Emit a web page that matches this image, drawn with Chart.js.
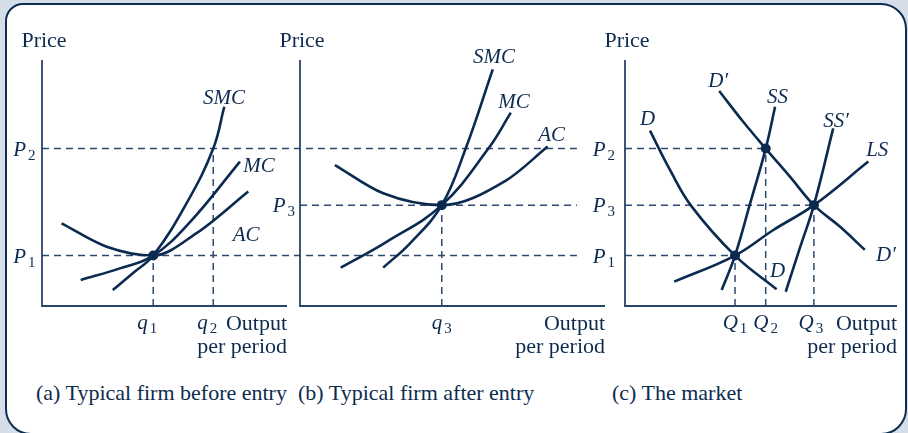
<!DOCTYPE html>
<html><head><meta charset="utf-8">
<script src="https://cdn.jsdelivr.net/npm/chart.js@4"></script>
<style>
html,body{margin:0;padding:0;}
body{width:908px;height:433px;background:#d5dde8;position:relative;overflow:hidden;font-family:"Liberation Serif","Times New Roman",serif;color:#0d2b4f;}
#frame{position:absolute;left:5px;top:3px;width:902px;height:432px;background:#fff;border:2.5px solid #0c2c52;border-radius:18px 26px 26px 26px;box-sizing:border-box;}
canvas{position:absolute;top:0;}
.cap{position:absolute;top:382px;font-size:22px;line-height:21px;white-space:nowrap;color:#0d2b4f;}
</style></head>
<body>
<div id="frame"></div>
<canvas id="ca" width="300" height="380" style="left:0px"></canvas>
<canvas id="cb" width="350" height="380" style="left:260px"></canvas>
<canvas id="cc" width="318" height="380" style="left:590px"></canvas>
<div class="cap" style="left:36px">(a) Typical firm before entry</div>
<div class="cap" style="left:298px">(b) Typical firm after entry</div>
<div class="cap" style="left:612px">(c) The market</div>
<script>
// ---- price levels (shared) ----
const P1 = 20.5, P2 = 64, P3 = 41;
// ---- firm outputs ----
const q1 = 45.4, q2 = 69.9, q3 = 58.1;
// ---- market outputs ----
const Q1 = 44.5, Q2 = 56.9, Q3 = 76.4;

// ---- panel (a): typical firm before entry ----
const smcA = [[28.9,6.5],[37.3,13.5],[q1,P1],[59.1,41.9],[q2,P2],[74.4,81.0]];
const mcA  = [[15.8,10.6],[31.8,15.3],[q1,P1],[60.4,34.1],[80.8,58.7]];
const acA  = [[8.0,33.6],[26.4,24.1],[q1,P1],[63.1,29.6],[84.2,46.5]];

// ---- panel (b): typical firm after entry ----
const smcB = [[34.1,15.6],[45.1,25.5],[q3,P3],[67.9,P2],[79.0,96.2]];
const mcB  = [[16.7,15.6],[35.5,26.1],[q3,P3],[77.2,P2],[86.4,78.6]];
const acB  = [[14.3,57.3],[34.1,45.8],[q3,P3],[84.7,51.2],[101.5,64.8]];

// ---- panel (c): the market ----
const dC   = [[10.1,71.3],[18.2,55.3],[27.0,40.4],[Q1,P1],[61.3,6.8]];
const dpC  = [[38.1,87.4],[47.8,74.9],[Q2,P2],[66.7,52.6],[Q3,P3],[87.0,32.2],[97.0,22.8]];
const ssC  = [[39.1,6.5],[Q1,P1],[50.6,41.7],[Q2,P2],[60.7,81.0]];
const sspC = [[65.0,5.8],[70.9,24.1],[Q3,P3],[84.2,72.2]];
const lsC  = [[19.9,9.9],[Q1,P1],[60.0,30.9],[Q3,P3],[98.4,58.7]];

// ---- axis ranges ----
const yMax = 100, xMaxA = 100, xMaxB = 125, xMaxC = 110;

// ---- tick labels ----
const yTicksA = [['P','1',P1],['P','2',P2]];
const yTicksB = [['P','3',P3]];
const yTicksC = [['P','2',P2],['P','3',P3],['P','1',P1]];
const xTicksA = [['q','1',q1],['q','2',q2]];
const xTicksB = [['q','3',q3]];
const xTicksC = [['Q','1',Q1],['Q','2',Q2],['Q','3',Q3]];

// ---- curve labels (text, x, y in data units) ----
const curveLabelsA = [['SMC',74.3,85.0],['MC',88.6,57.5],['AC',83.3,29.1]];
const curveLabelsB = [['SMC',79.5,101.8],['MC',87.7,83.5],['AC',103.1,70.1]];
const curveLabelsC = [['D\u2032',37.7,91.7],['SS',61.7,85.2],['D',9.1,76.6],['SS\u2032',85.4,75.8],['LS',102,64],['D\u2032',105.5,21.3],['D',61.7,14.6]];

// ---- styles ----
const NAVY = '#0b2a50', DASH = '#2c4a70', AXC = '#27446a', TXT = '#0d2b4f';
const FAM = '"Liberation Serif","Times New Roman",serif';
function fontFor(s){ return s==='i' ? 'italic 21px '+FAM : s==='s' ? '15px '+FAM : '22px '+FAM; }
function rich(ctx, parts, x, y, align){
  let w = 0; const ms = [];
  for (const [t,s] of parts){ ctx.font = fontFor(s); const m = ctx.measureText(t).width; ms.push(m); w += m + (s==='s'?2:0); }
  let cx = align==='center' ? x - w/2 : align==='right' ? x - w : x;
  parts.forEach(([t,s],i)=>{ ctx.font = fontFor(s); if (s==='s'){ cx += 2; ctx.fillText(t, cx, y+4); } else ctx.fillText(t, cx, y); cx += ms[i]; });
}
const pts = a => a.map(([x,y]) => ({x,y}));
const curve = a => ({data:pts(a), showLine:true, borderColor:NAVY, borderWidth:2.6, pointRadius:0, tension:0.4, clip:false, order:1});
const ucurve = a => ({data:pts(a), showLine:true, borderColor:NAVY, borderWidth:2.6, pointRadius:0, cubicInterpolationMode:'monotone', clip:false, order:1});
const dash = a => ({data:pts(a), showLine:true, borderColor:DASH, borderWidth:1.5, borderDash:[7,5], pointRadius:0, tension:0, clip:false, order:3});
const axis = xm => ({data:pts([[0,yMax],[0,0],[xm,0]]), showLine:true, borderColor:AXC, borderWidth:1.8, pointRadius:0, tension:0, clip:false, order:2});
const dots = a => ({data:pts(a), showLine:false, pointRadius:5, pointHoverRadius:5, pointBackgroundColor:NAVY, pointBorderWidth:0, clip:false, order:0});

function labels(spec){
  return { id:'lbl', afterDatasetsDraw(chart){
    const ctx = chart.ctx, xs = chart.scales.x, ys = chart.scales.y;
    const ax = xs.getPixelForValue(0), ay = ys.getPixelForValue(0), xe = xs.getPixelForValue(spec.xmax);
    ctx.save(); ctx.fillStyle = TXT; ctx.textBaseline = 'alphabetic';
    rich(ctx, [['Price','r']], ax+2, 47, 'center');
    spec.y.forEach(([n,s,v]) => rich(ctx, [[n,'i'],[s,'s']], ax - spec.yOff, ys.getPixelForValue(v)+7, 'right'));
    spec.x.forEach(([n,s,v],i) => rich(ctx, [[n,'i'],[s,'s']], xs.getPixelForValue(v) + (spec.xdx[i]||0), ay+23, 'center'));
    rich(ctx, [['Output','r']], xe, ay+24, 'right');
    rich(ctx, [['per period','r']], xe, ay+47, 'right');
    spec.c.forEach(([t,x,y]) => rich(ctx, [[t,'i']], xs.getPixelForValue(x), ys.getPixelForValue(y)+7, 'center'));
    ctx.restore();
  }};
}
function make(id, xmax, pad, datasets, spec){
  return new Chart(document.getElementById(id), {
    type:'scatter',
    data:{datasets},
    options:{
      responsive:false, animation:false, devicePixelRatio:1, events:[],
      layout:{padding:pad},
      scales:{ x:{type:'linear', min:0, max:xmax, display:false}, y:{type:'linear', min:0, max:yMax, display:false} },
      plugins:{legend:{display:false}, tooltip:{enabled:false}}
    },
    plugins:[labels(spec)]
  });
}

make('ca', xMaxA, {left:42, right:13, top:60, bottom:74}, [
  dash([[0,P2],[93,P2]]), dash([[0,P1],[93,P1]]),
  dash([[q1,0],[q1,P1]]), dash([[q2,0],[q2,P2]]),
  axis(xMaxA),
  ucurve(acA), curve(mcA), curve(smcA),
  dots([[q1,P1]])
], {xmax:xMaxA, y:yTicksA, yOff:6.5, x:xTicksA, xdx:[-6,-6], c:curveLabelsA});

make('cb', xMaxB, {left:40, right:5, top:60, bottom:74}, [
  dash([[-12.3,P2],[113.5,P2]]), dash([[-12.3,P1],[113.5,P1]]), dash([[0,P3],[113.5,P3]]),
  dash([[q3,0],[q3,P3]]),
  axis(xMaxB),
  ucurve(acB), curve(mcB), curve(smcB),
  dots([[q3,P3]])
], {xmax:xMaxB, y:yTicksB, yOff:5, x:xTicksB, xdx:[0], c:curveLabelsB});

make('cc', xMaxC, {left:35, right:11, top:60, bottom:74}, [
  dash([[0,P2],[Q2,P2]]), dash([[0,P3],[Q3,P3]]), dash([[0,P1],[Q1,P1]]),
  dash([[Q1,0],[Q1,P1]]), dash([[Q2,0],[Q2,P2]]), dash([[Q3,0],[Q3,P3]]),
  axis(xMaxC),
  curve(dC), curve(dpC), curve(ssC), curve(sspC), curve(lsC),
  dots([[Q1,P1],[Q2,P2],[Q3,P3]])
], {xmax:xMaxC, y:yTicksC, yOff:10, x:xTicksC, xdx:[0,0,-3], c:curveLabelsC});
</script>
</body></html>
